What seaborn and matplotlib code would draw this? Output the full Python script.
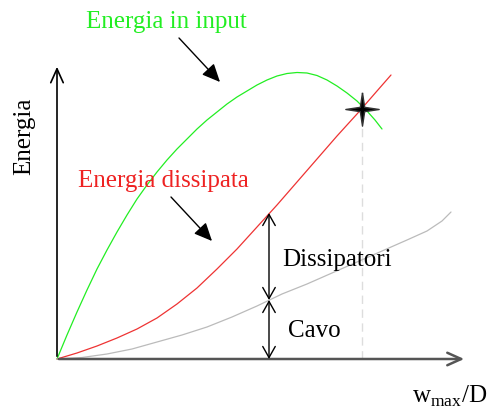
# %%
# ===== Libraries =====
import numpy as np
import pandas as pd
import matplotlib
matplotlib.use('Agg')
import matplotlib.pyplot as plt
import seaborn as sns

sns.set_style('white')
plt.rcParams['font.family'] = ['Liberation Serif', 'DejaVu Serif']
plt.rcParams['mathtext.fontset'] = 'custom'
plt.rcParams['mathtext.rm'] = 'Liberation Serif'

# %%
# ===== Curves (origin at the axes corner) =====
green_x = [0, 10, 20, 30, 40, 50, 60, 70, 80, 90, 100, 110, 120, 130, 140, 150, 160,
           170, 180, 190, 200, 210, 220, 230, 240, 250, 260, 270, 280, 290, 300, 310, 318, 325]
green_y = [0, 24, 47, 69, 90, 109, 127, 144, 160, 174, 187, 199, 210, 220, 230, 239, 247,
           255, 262, 268, 274, 279, 283, 285.5, 286.5, 286, 283.5, 279, 273, 266, 258, 248, 239, 230]

red_x = [0, 20, 40, 60, 80, 100, 120, 140, 160, 180, 200, 220, 240, 260, 280, 300, 320, 334]
red_y = [0, 6, 13, 21, 30, 41, 55, 71, 90, 110, 132, 154, 177, 200, 223, 245, 268, 284]

gray_x = [0, 25, 50, 75, 100, 125, 150, 175, 200, 225, 250, 275, 300, 325, 350, 370, 385, 394]
gray_y = [0, 1.5, 5, 10, 17, 24, 32, 42, 53, 65, 75, 86, 97, 108, 119, 128, 138, 147]

# intersection point and the split at x = 212
star_x, star_y = 305, 250
split_x = 212
split_cavo = 59
split_diss = 146

curves = pd.concat([
    pd.DataFrame({'x': green_x, 'y': green_y, 'curve': 'input'}),
    pd.DataFrame({'x': red_x, 'y': red_y, 'curve': 'dissipata'}),
    pd.DataFrame({'x': gray_x, 'y': gray_y, 'curve': 'cavo'}),
])
palette = {'input': '#22ee22', 'dissipata': '#ee3333', 'cavo': '#bbbbbb'}

# %%
# ===== Figure =====
fig = plt.figure(figsize=(4.91, 4.10), dpi=100)
ax = fig.add_axes([0, 0, 1, 1])
ax.set_xlim(-57, 434)
ax.set_ylim(-50, 360)
ax.axis('off')

sns.lineplot(data=curves, x='x', y='y', hue='curve', palette=palette, sort=False,
             estimator=None, linewidth=0.9, legend=False, ax=ax)

# dashed guide under the star
ax.plot([star_x, star_x], [0, star_y], color='#dddddd', lw=1, ls=(0, (6, 4)), zorder=1)

# axes with open arrow heads
ax.annotate('', xy=(0, 295), xytext=(0, 0),
            arrowprops=dict(arrowstyle='->,head_length=1.0,head_width=0.45', color='black', lw=1.2))
ax.annotate('', xy=(410, 0), xytext=(-1, 0),
            arrowprops=dict(arrowstyle='->,head_length=1.0,head_width=0.45', color='#555555', lw=1.8))

# double arrows Cavo / Dissipatori
for y0, y1 in [(0, split_cavo), (split_cavo, split_diss)]:
    ax.annotate('', xy=(split_x, y1), xytext=(split_x, y0),
                arrowprops=dict(arrowstyle='<->,head_length=0.8,head_width=0.45',
                                color='black', lw=1.0, shrinkA=0, shrinkB=0))

# pointer arrows
pointer = dict(arrowstyle='-|>,head_length=1.1,head_width=0.5', color='black', lw=1.0,
               shrinkA=0, shrinkB=0)
ax.annotate('', xy=(163, 277), xytext=(122, 321), arrowprops=pointer)
ax.annotate('', xy=(155, 118), xytext=(114, 162), arrowprops=pointer)

# four point star
star = [(0, 1), (0.13, 0.13), (1, 0), (0.13, -0.13), (0, -1), (-0.13, -0.13), (-1, 0), (-0.13, 0.13), (0, 1)]
ax.plot([star_x], [star_y], marker=star, ms=24, color='black', mec='#333333', zorder=5)

# %%
# ===== Labels =====
ax.text(29, 332, 'Energia in input', color='#22ee22', fontsize=18, va='baseline')
ax.text(21, 173, 'Energia dissipata', color='#ee2222', fontsize=18, va='baseline')
ax.text(225, 94, 'Dissipatori', color='black', fontsize=18, va='baseline')
ax.text(231, 23, 'Cavo', color='black', fontsize=18, va='baseline')
ax.text(-33, 224, 'Energia', color='black', fontsize=18, rotation=90, ha='center', va='center')
ax.text(355, -43, r'$\mathrm{w}_{\mathrm{max}}\mathrm{/D}$', color='black', fontsize=18, va='baseline')

fig.savefig('out.png', dpi=100)
